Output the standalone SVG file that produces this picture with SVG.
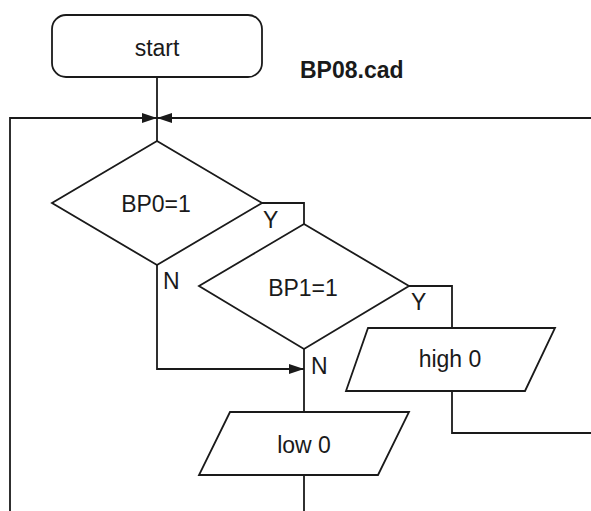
<svg xmlns="http://www.w3.org/2000/svg" width="591" height="511" viewBox="0 0 591 511">
<defs>
<style>
.s{fill:#fff;stroke:#1a1a1a;stroke-width:1.8}
.c{fill:none;stroke:#1a1a1a;stroke-width:1.8}
.t{font-family:"Liberation Sans",Arial,sans-serif;font-size:23px;fill:#1a1a1a}
.m{text-anchor:middle}
.b{font-weight:bold}
</style>
<marker id="ah" viewBox="0 0 15 10" refX="15" refY="5" markerWidth="15" markerHeight="10" markerUnits="userSpaceOnUse" orient="auto">
<path d="M0,0 L15,5 L0,10 Z" fill="#1a1a1a"/>
</marker>
</defs>
<rect width="591" height="511" fill="#fff"/>
<g id="connectors">
<path class="c" d="M157,77 V141"/>
<path class="c" d="M10,511 V118 H157" marker-end="url(#ah)"/>
<path class="c" d="M591,118 H157" marker-end="url(#ah)"/>
<path class="c" d="M262,203 H304 V224"/>
<path class="c" d="M157,265 V369 H304" marker-end="url(#ah)"/>
<path class="c" d="M409,286 H452 V328"/>
<path class="c" d="M304,349 V412"/>
<path class="c" d="M452,391 V433 H591"/>
<path class="c" d="M304,475 V511"/>
<text class="t" x="263" y="228">Y</text>
<text class="t" x="163" y="289">N</text>
<text class="t" x="411" y="310">Y</text>
<text class="t" x="311" y="374">N</text>
</g>
<g id="start">
<rect class="s" x="52" y="15" width="210" height="62" rx="14"/>
<text class="t m" x="157" y="56">start</text>
</g>
<g id="title">
<text class="t b" x="300" y="78">BP08.cad</text>
</g>
<g id="bp0">
<polygon class="s" points="157,141 262,203 157,265 52,203"/>
<text class="t m" x="156" y="212">BP0=1</text>
</g>
<g id="bp1">
<polygon class="s" points="304,224 409,286 304,349 199,286"/>
<text class="t m" x="303" y="296">BP1=1</text>
</g>
<g id="high0">
<polygon class="s" points="368,328 555,328 525,391 346,391"/>
<text class="t m" x="450" y="367">high 0</text>
</g>
<g id="low0">
<polygon class="s" points="230,412 409,412 378,475 199,475"/>
<text class="t m" x="304" y="453">low 0</text>
</g>
</svg>
